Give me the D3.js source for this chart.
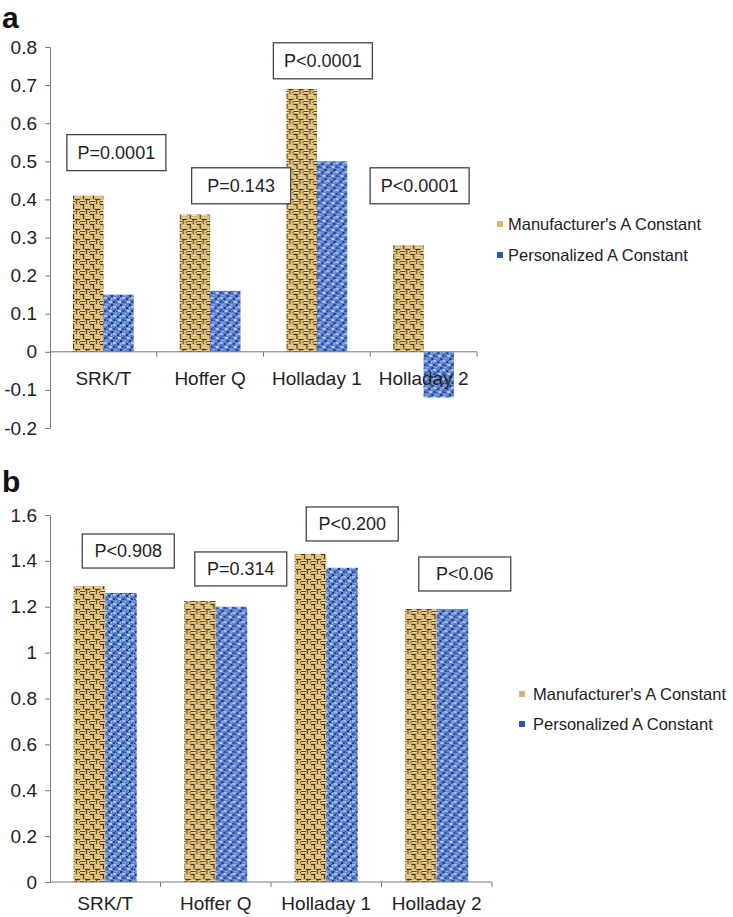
<!DOCTYPE html>
<html>
<head>
<meta charset="utf-8">
<script src="https://cdn.jsdelivr.net/npm/d3@7"></script>
<style>
  body { margin: 0; background: #fff; }
  svg { display: block; font-family: "Liberation Sans", Arial, sans-serif; }
</style>
</head>
<body>
<svg id="chart" width="733" height="917"></svg>
<script>
const categories = ["SRK/T", "Hoffer Q", "Holladay 1", "Holladay 2"]
const seriesNames = ["Manufacturer's A Constant", "Personalized A Constant"]

// panel a
const manufacturerA = [0.41, 0.36, 0.69, 0.28]
const personalizedA = [0.15, 0.16, 0.50, -0.12]
const pLabelsA = ["P=0.0001", "P=0.143", "P<0.0001", "P<0.0001"]
const ticksA = [-0.2, -0.1, 0, 0.1, 0.2, 0.3, 0.4, 0.5, 0.6, 0.7, 0.8]

// panel b
const manufacturerB = [1.29, 1.225, 1.43, 1.19]
const personalizedB = [1.26, 1.20, 1.37, 1.19]
const pLabelsB = ["P<0.908", "P=0.314", "P<0.200", "P<0.06"]
const ticksB = [0, 0.2, 0.4, 0.6, 0.8, 1, 1.2, 1.4, 1.6]

const svg = d3.select("#chart")
const defs = svg.append("defs")

// basket-weave tan texture
let tan = defs.append("pattern")
  .attr("id", "tan")
  .attr("patternUnits", "userSpaceOnUse")
  .attr("width", 10).attr("height", 10)
tan.append("rect").attr("width", 10).attr("height", 10).attr("fill", "#d4b16b")
;[[0, 0, 5, 1, "#f0dca6"], [0, 2, 5, 1, "#f0dca6"], [5, 5, 5, 1, "#eed8a0"], [5, 7, 5, 1, "#eed8a0"],
  [0, 1, 5, 1, "#5a4318"], [0, 4, 4, 1, "#3e2d0e"], [5, 9, 5, 1, "#4b3812"],
  [6, 0, 1, 4, "#6a5222"], [8, 1, 1, 3, "#e9d195"], [1, 6, 1, 3, "#e9d195"],
  [3, 5, 1, 4, "#4a3712"], [9, 2, 1, 1, "#3a2a0c"]].forEach(r => {
  tan.append("rect").attr("x", r[0]).attr("y", r[1]).attr("width", r[2]).attr("height", r[3]).attr("fill", r[4])
})

// speckled blue texture
let blue = defs.append("pattern")
  .attr("id", "blue")
  .attr("patternUnits", "userSpaceOnUse")
  .attr("width", 9).attr("height", 9)
blue.append("rect").attr("width", 9).attr("height", 9).attr("fill", "#6285cf")
;[[0, 0, 3, 2, "#a3bdf0"], [5, 4, 3, 2, "#b0c8f5"], [2, 7, 2, 1, "#94b0ea"], [7, 1, 1, 2, "#9fb9ee"],
  [4, 1, 2, 2, "#1d3d8a"], [0, 4, 2, 2, "#24478f"], [7, 7, 2, 2, "#183580"],
  [6, 0, 1, 1, "#2c4e98"], [3, 5, 1, 1, "#1a3884"], [2, 3, 1, 1, "#2a4b96"]].forEach(r => {
  blue.append("rect").attr("x", r[0]).attr("y", r[1]).attr("width", r[2]).attr("height", r[3]).attr("fill", r[4])
})

const fills = ["url(#tan)", "url(#blue)"]
const legendColors = ["#d9b46a", "#2f55a8"]

function fmt(d) {
  if (d === 0) return "0"
  return (+d.toFixed(1)).toString()
}

function drawPanel(cfg) {
  let g = svg.append("g")

  let y = d3.scaleLinear().domain(cfg.domain).range([cfg.bottom, cfg.top])
  let x0 = d3.scaleBand().domain(categories).range([cfg.left, cfg.right])
  let bw = x0.bandwidth()
  let x1 = d3.scaleBand().domain([0, 1]).range([bw * 0.215, bw * 0.785])

  // panel letter
  g.append("text")
    .attr("x", 2)
    .attr("y", cfg.letterY)
    .attr("font-size", 30)
    .attr("font-weight", "bold")
    .attr("fill", "#111")
    .text(cfg.letter)

  // y axis
  let yAxis = g.append("g")
    .attr("transform", `translate(${cfg.left},0)`)
    .call(d3.axisLeft(y).tickValues(cfg.ticks).tickFormat(fmt).tickSize(5).tickPadding(8))
  yAxis.select(".domain").attr("stroke", "#7a7a7a")
  yAxis.selectAll(".tick line").attr("stroke", "#7a7a7a")
  yAxis.selectAll(".tick text")
    .attr("font-size", 19)
    .attr("fill", "#222")
    .attr("font-family", "Liberation Sans, Arial, sans-serif")

  // bars
  let rows = categories.map((c, i) => ({ cat: c, vals: [cfg.series[0][i], cfg.series[1][i]] }))
  let groups = g.selectAll(".grp")
    .data(rows)
    .enter()
    .append("g")
    .attr("transform", d => `translate(${x0(d.cat)},0)`)

  groups.selectAll("rect")
    .data(d => d.vals.map((v, k) => ({ v: v, k: k })))
    .enter()
    .append("rect")
    .attr("x", d => x1(d.k))
    .attr("width", x1.bandwidth())
    .attr("y", d => y(Math.max(0, d.v)))
    .attr("height", d => Math.abs(y(d.v) - y(0)))
    .attr("fill", d => fills[d.k])

  // x axis line at zero with boundary ticks
  let y0 = y(0)
  g.append("line")
    .attr("x1", cfg.left).attr("x2", cfg.right)
    .attr("y1", y0).attr("y2", y0)
    .attr("stroke", "#7a7a7a")
  let edges = categories.map(c => x0(c)).concat([cfg.right]).slice(1)
  g.selectAll(".xtick")
    .data(edges)
    .enter()
    .append("line")
    .attr("x1", d => d).attr("x2", d => d)
    .attr("y1", y0).attr("y2", y0 + 5)
    .attr("stroke", "#7a7a7a")

  g.selectAll(".xlab")
    .data(categories)
    .enter()
    .append("text")
    .attr("x", d => x0(d) + bw / 2)
    .attr("y", cfg.catLabelY)
    .attr("text-anchor", "middle")
    .attr("font-size", 19)
    .attr("fill", "#222")
    .text(d => d)

  // p-value boxes
  cfg.pLabels.forEach((p, i) => {
    let b = cfg.boxes[i]
    let cx = x0(categories[i]) + bw / 2 + b.dx
    let top = y(b.top)
    g.append("rect")
      .attr("x", cx - cfg.boxW / 2)
      .attr("y", top)
      .attr("width", cfg.boxW)
      .attr("height", cfg.boxH)
      .attr("fill", "#fff")
      .attr("stroke", "#444")
      .attr("stroke-width", 1.3)
    g.append("text")
      .attr("x", cx)
      .attr("y", top + cfg.boxH / 2 + 6)
      .attr("text-anchor", "middle")
      .attr("font-size", 18)
      .attr("fill", "#222")
      .text(p)
  })

  // legend
  seriesNames.forEach((name, k) => {
    let ly = cfg.legendY + k * cfg.legendGap
    g.append("rect")
      .attr("x", cfg.legendX)
      .attr("y", ly - 3)
      .attr("width", 6)
      .attr("height", 6)
      .attr("fill", legendColors[k])
    g.append("text")
      .attr("x", cfg.legendX + cfg.legendTextDx)
      .attr("y", ly + 6)
      .attr("font-size", 16.5)
      .attr("fill", "#222")
      .text(name)
  })
}

drawPanel({
  letter: "a",
  letterY: 28,
  domain: [-0.2, 0.8],
  ticks: ticksA,
  top: 47,
  bottom: 428,
  left: 50,
  right: 477,
  catLabelY: 385,
  series: [manufacturerA, personalizedA],
  pLabels: pLabelsA,
  boxes: [{ dx: 13, top: 0.57 }, { dx: 31, top: 0.483 }, { dx: 6, top: 0.811 }, { dx: -4, top: 0.483 }],
  boxW: 99,
  boxH: 36,
  legendX: 497,
  legendTextDx: 11,
  legendY: 224,
  legendGap: 31
})

drawPanel({
  letter: "b",
  letterY: 492,
  domain: [0, 1.6],
  ticks: ticksB,
  top: 515,
  bottom: 882,
  left: 50,
  right: 492,
  catLabelY: 910,
  series: [manufacturerB, personalizedB],
  pLabels: pLabelsB,
  boxes: [{ dx: 23, top: 1.517 }, { dx: 25, top: 1.439 }, { dx: 26, top: 1.635 }, { dx: 28, top: 1.417 }],
  boxW: 92,
  boxH: 34,
  legendX: 519,
  legendTextDx: 14,
  legendY: 694,
  legendGap: 30
})
</script>
</body>
</html>
